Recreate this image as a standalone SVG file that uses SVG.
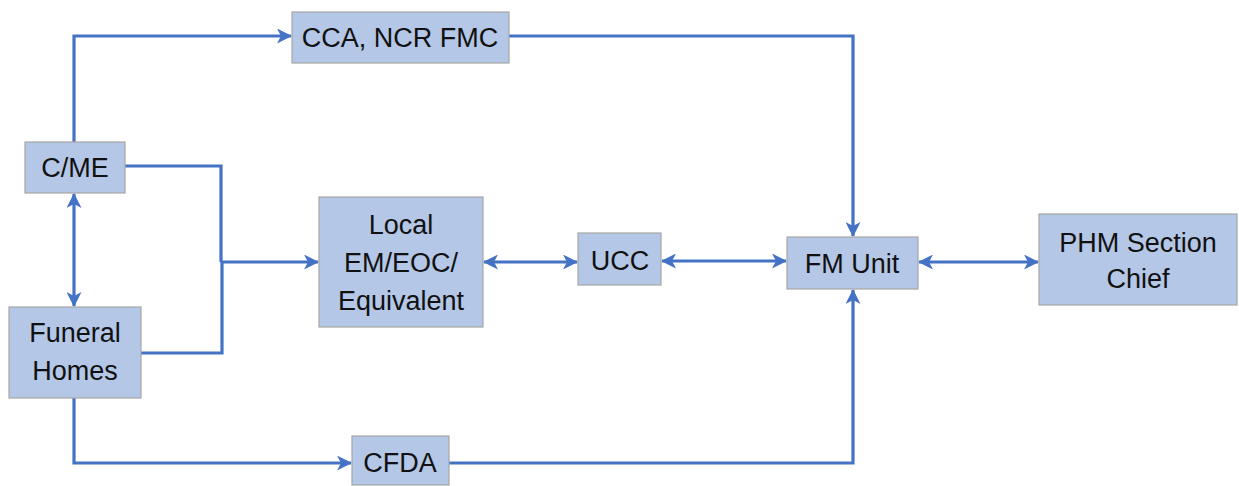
<svg xmlns="http://www.w3.org/2000/svg" width="1239" height="486" viewBox="0 0 1239 486">
<style>
.box{fill:#B4C7E7;stroke:#A6A6A6;stroke-width:1.2}
.t{font-family:"Liberation Sans",Arial,sans-serif;font-size:27px;fill:#111;text-anchor:middle}
.c{fill:none;stroke:#4472C4;stroke-width:3.2}
</style>
<defs>
<marker id="ah" markerUnits="userSpaceOnUse" markerWidth="15" markerHeight="15" refX="14" refY="7.5" orient="auto-start-reverse" viewBox="0 0 15 15">
<path d="M0,0 L15,7.5 L0,15 L4,7.5 z" fill="#4472C4"/>
</marker>
</defs>
<g id="connectors">
<path class="c" d="M74,142 V36 H291" marker-end="url(#ah)"/>
<path class="c" d="M509,36 H853 V236" marker-end="url(#ah)"/>
<path class="c" d="M125,166 H221 V262"/>
<path class="c" d="M141,353 H222 V262"/>
<path class="c" d="M221,262 H318" marker-end="url(#ah)"/>
<path class="c" d="M74,194 V306" marker-start="url(#ah)" marker-end="url(#ah)"/>
<path class="c" d="M74,398 V463 H351" marker-end="url(#ah)"/>
<path class="c" d="M449,463 H853 V290" marker-end="url(#ah)"/>
<path class="c" d="M484,262 H577" marker-start="url(#ah)" marker-end="url(#ah)"/>
<path class="c" d="M662,261 H786" marker-start="url(#ah)" marker-end="url(#ah)"/>
<path class="c" d="M919,262 H1038" marker-start="url(#ah)" marker-end="url(#ah)"/>
</g>
<g id="cca"><rect class="box" x="292" y="12" width="217" height="51"/><text class="t" x="400" y="47">CCA, NCR FMC</text></g>
<g id="cme"><rect class="box" x="25" y="142" width="100" height="51"/><text class="t" x="75" y="177">C/ME</text></g>
<g id="local"><rect class="box" x="319" y="197" width="164" height="130"/><text class="t" x="401" y="234">Local</text><text class="t" x="401" y="272">EM/EOC/</text><text class="t" x="401" y="310">Equivalent</text></g>
<g id="funeral"><rect class="box" x="9" y="307" width="132" height="91"/><text class="t" x="75" y="342">Funeral</text><text class="t" x="75" y="380">Homes</text></g>
<g id="cfda"><rect class="box" x="352" y="436" width="97" height="49"/><text class="t" x="400" y="472">CFDA</text></g>
<g id="ucc"><rect class="box" x="578" y="233" width="83" height="52"/><text class="t" x="620" y="270">UCC</text></g>
<g id="fm"><rect class="box" x="787" y="237" width="131" height="52"/><text class="t" x="852" y="273">FM Unit</text></g>
<g id="phm"><rect class="box" x="1039" y="214" width="198" height="91"/><text class="t" x="1138" y="252">PHM Section</text><text class="t" x="1138" y="288">Chief</text></g>
</svg>
